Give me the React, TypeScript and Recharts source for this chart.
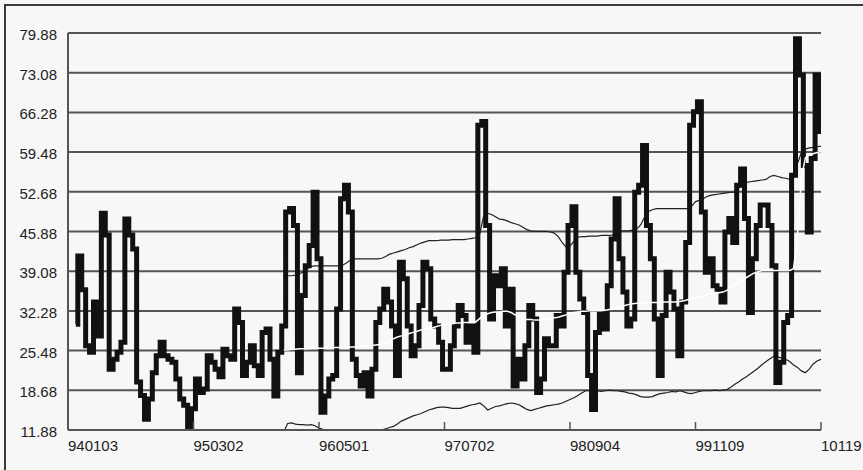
import React from 'react';
import { LineChart, Line, XAxis, YAxis, CartesianGrid } from 'recharts';

const xTickLabels = ['940103', '950302', '960501', '970702', '980904', '991109', '10119'];
const xTickIndex = [0, 32, 64, 96, 128, 160, 192];
const yTicks = [11.88, 18.68, 25.48, 32.28, 39.08, 45.88, 52.68, 59.48, 66.28, 73.08, 79.88];
const SAMPLE_COUNT = 193;

const volStart = 2;
const volatility = [
  30.0, 41.7, 35.9, 26.3, 25.2, 33.8, 28.0, 49.0, 45.3, 22.3,
  24.0, 25.2, 26.9, 48.0, 45.3, 42.9, 20.1, 17.8, 13.7, 17.2,
  21.7, 24.6, 26.9, 24.6, 24.0, 23.5, 20.6, 17.2, 16.1, 12.0,
  15.5, 20.6, 18.3, 18.9, 24.6, 23.5, 22.3, 21.0, 25.7, 24.6,
  24.0, 32.6, 30.3, 21.2, 23.5, 26.3, 22.9, 21.2, 28.6, 29.2,
  24.0, 17.7, 25.2, 29.7, 49.2, 49.8, 46.9, 21.7, 34.9, 40.0,
  43.5, 52.6, 41.2, 14.9, 17.7, 20.6, 21.2, 32.6, 51.5, 53.8,
  49.2, 24.0, 21.2, 19.4, 21.7, 17.7, 22.3, 30.3, 32.6, 36.0,
  33.8, 29.7, 21.2, 40.6, 37.8, 29.7, 24.6, 26.3, 33.2, 40.6,
  39.5, 30.9, 29.7, 26.9, 22.3, 22.3, 26.3, 29.7, 33.2, 31.5,
  26.9, 29.7, 25.2, 64.1, 64.7, 46.9, 30.9, 38.3, 36.6, 39.5,
  29.7, 36.0, 19.4, 24.0, 20.6, 26.3, 33.2, 30.9, 18.3, 20.6,
  27.5, 26.3, 26.3, 31.5, 29.7, 38.9, 46.9, 50.1, 38.9, 34.3,
  32.0, 21.2, 15.4, 28.6, 32.0, 29.2, 36.6, 44.6, 51.5, 41.2,
  35.5, 29.7, 30.9, 52.6, 53.8, 60.6, 46.9, 41.2, 30.9, 21.2,
  31.5, 38.9, 35.5, 32.6, 24.6, 33.8, 44.0, 64.1, 66.4, 68.1,
  49.2, 38.9, 41.2, 36.6, 36.0, 33.8, 45.8, 48.1, 44.0, 53.8,
  56.6, 48.1, 32.0, 41.2, 46.9, 50.4, 50.4, 46.9, 40.0, 20.0,
  23.5, 30.3, 31.5, 55.5, 78.9, 72.7, 57.2, 45.8, 58.4, 72.7, 63.0,
];

const bandStart = 55;
const upperBand = [
  38.3, 38.3, 38.3, 38.4,
  38.6, 39.0, 39.5, 39.9,
  40.0, 40.0, 40.0, 40.0, 40.0, 40.0, 40.0, 40.1,
  40.5, 41.0,
  41.2, 41.2, 41.2, 41.2, 41.2, 41.2, 41.2, 41.3,
  41.6, 42.0, 42.2, 42.4, 42.6, 42.8, 43.1, 43.3, 43.6, 43.9, 44.1,
  44.3, 44.3, 44.3, 44.4, 44.4, 44.4, 44.5, 44.5, 44.5, 44.5, 44.6, 44.7, 44.8,
  45.5, 48.6, 49.0, 48.8, 48.4, 48.0, 47.9, 47.7, 47.4, 47.2, 47.0, 46.6, 46.2, 46.0,
  45.9, 45.9, 45.9, 45.9, 45.8, 45.6, 45.0, 44.0, 43.2, 43.4,
  44.2, 44.9, 45.0, 45.0, 45.1, 45.1, 45.1, 45.2, 45.2, 45.2, 45.3,
  45.8, 46.0, 46.0, 46.0, 46.1, 46.3, 47.0, 48.3, 49.3, 49.6,
  49.8, 49.8, 49.8, 49.8, 49.8, 49.8, 49.8, 49.8, 49.8,
  50.2, 51.0, 51.2, 51.5, 51.9, 52.1, 52.2, 52.3, 52.4, 52.5, 52.6, 52.6,
  53.3, 54.0, 54.3, 54.4, 54.5, 54.6, 54.7, 54.8, 55.3, 55.5,
  55.3, 55.1, 55.0, 54.8, 55.5, 57.5, 59.4, 60.0, 60.2, 60.3, 60.4, 60.5,
];

const meanLine = [
  25.6, 25.6, 25.7, 25.7, 25.8, 25.8, 25.8, 25.9, 25.9, 25.9, 25.9, 25.9, 25.9, 26.0, 26.0,
  26.0, 26.0, 26.1, 26.1, 26.2, 26.2, 26.3, 26.3, 26.4, 26.5,
  26.6, 26.9, 27.2, 27.5, 27.8, 28.0, 28.2, 28.4, 28.6, 28.8, 29.0, 29.2, 29.3, 29.4, 29.6, 29.8, 30.0,
  30.1, 30.1, 30.2, 30.2, 30.3, 30.3, 30.4, 30.4,
  31.0, 31.5, 31.8, 32.0, 32.1, 32.1, 32.2, 32.2,
  32.0, 31.6, 31.2, 30.9, 30.8, 30.8, 30.7, 30.7, 30.8, 30.9,
  31.0, 31.1, 31.2, 31.4, 31.6, 31.8, 32.0, 32.1,
  32.2, 32.2, 32.3, 32.3, 32.3, 32.3, 32.4, 32.5, 32.6, 32.8,
  33.0, 33.2, 33.4, 33.5, 33.6, 33.6,
  33.7, 33.7, 33.7, 33.7, 33.7, 33.8, 33.8, 33.8, 33.8, 33.9, 34.0, 34.2, 34.4, 34.5,
  34.7, 34.9, 35.1, 35.2, 35.3, 35.4, 35.5,
  35.8, 36.3, 36.8, 37.2, 37.6, 38.0, 38.4, 38.8,
  39.0, 39.2, 39.2, 39.2, 39.2, 39.2, 39.2, 39.2, 39.2,
  39.5, 45.0, 55.0, 58.5, 59.0, 59.2, 59.4, 59.6,
];

const lowerBand = [
  11.5, 13.0, 13.1,
  12.9, 12.8, 12.8, 12.7, 12.8,
  12.6, 12.2, 12.0, 11.9,
  11.8, 11.7, 11.6, 11.5,
  11.3, 11.2, 11.2, 11.3,
  11.6, 11.7, 11.7, 11.7, 11.8,
  11.9, 12.1, 12.3, 12.5, 12.9, 13.4, 13.7, 14.0, 14.3, 14.5, 14.7, 15.0, 15.3, 15.5, 15.7, 15.8, 15.8,
  15.7, 15.6, 15.6, 15.6, 15.8, 16.0, 16.2, 16.3, 16.5,
  16.0, 15.3, 15.6, 15.9, 16.0, 16.2, 16.4, 16.5, 16.4, 16.2, 15.8, 15.4, 15.2,
  15.4, 15.6, 15.8, 16.0, 16.1, 16.2, 16.3, 16.5, 16.8, 17.1, 17.4, 17.8, 18.2, 18.6,
  18.6, 18.6, 18.6, 18.5, 18.6, 18.7, 18.6, 18.6, 18.5,
  18.4, 18.2, 18.1, 17.9, 17.6, 17.5, 17.5, 17.6,
  17.9, 18.1, 18.2, 18.3, 18.5, 18.4, 18.6, 18.4, 18.2, 18.1, 18.3, 18.5,
  18.6, 18.6, 18.6, 18.7, 18.6, 18.7, 18.8,
  19.2, 19.7, 20.1, 20.6, 21.0, 21.5, 22.0, 22.5, 23.1, 23.6, 24.1, 24.5,
  24.4, 24.2, 24.0, 23.6, 23.0, 22.6, 22.0, 21.7, 22.3, 23.2, 23.7, 24.0,
];

const pick = (arr: number[], start: number, i: number) =>
  i >= start && i - start < arr.length ? arr[i - start] : null;

const data = Array.from({ length: SAMPLE_COUNT }, (_, i) => ({
  i,
  vol: pick(volatility, volStart, i),
  upper: pick(upperBand, bandStart, i),
  mean: pick(meanLine, bandStart, i),
  lower: pick(lowerBand, bandStart, i),
}));

const FONT = '"Liberation Sans", Arial, sans-serif';

const XTick = (props: any) => {
  const { x, y, payload } = props;
  const idx = xTickIndex.indexOf(payload.value);
  return (
    <g>
      {idx > 0 && <line x1={x} x2={x} y1={y - 8} y2={y} stroke="#555" strokeWidth={1.5} />}
      <text x={x} y={y + 21} textAnchor="start" fontSize={15} fontFamily={FONT} fill="#222">
        {xTickLabels[idx]}
      </text>
    </g>
  );
};

const YTick = (props: any) => {
  const { x, y, payload } = props;
  return (
    <text x={x} y={y + 7} textAnchor="end" fontSize={15} fontFamily={FONT} fill="#222">
      {Number(payload.value).toFixed(2)}
    </text>
  );
};

export default function App() {
  return (
    <div style={{ position: 'absolute', left: 0, top: 0, width: 863, height: 470, background: '#f7f7f7', overflow: 'hidden' }}>
      <div style={{ position: 'absolute', left: 4, top: 4, width: 900, height: 500, border: '2px solid #3a3a3a', boxSizing: 'border-box' }} />
      <div style={{ position: 'absolute', left: 0, top: 0 }}>
        <LineChart width={863} height={470} data={data} margin={{ top: 33, right: 42, bottom: 10, left: 8 }}>
          <CartesianGrid vertical={false} stroke="#555" strokeWidth={2} />
          <XAxis
            dataKey="i"
            type="number"
            domain={[0, 192]}
            ticks={xTickIndex}
            allowDataOverflow
            height={30}
            tickSize={0}
            tickMargin={0}
            tickLine={false}
            axisLine={{ stroke: '#555', strokeWidth: 2 }}
            tick={<XTick />}
            interval={0}
          />
          <YAxis
            type="number"
            domain={[11.88, 79.88]}
            ticks={yTicks}
            allowDataOverflow
            width={60}
            tickSize={0}
            tickMargin={11}
            tickLine={false}
            axisLine={{ stroke: '#555', strokeWidth: 2 }}
            tick={<YTick />}
            interval={0}
          />
          <Line dataKey="lower" stroke="#222" strokeWidth={1.2} dot={false} isAnimationActive={false} type="linear" />
          <Line dataKey="upper" stroke="#222" strokeWidth={1.2} dot={false} isAnimationActive={false} type="linear" />
          <Line dataKey="vol" stroke="#111" strokeWidth={5} dot={false} isAnimationActive={false} type="step" strokeLinejoin="miter" strokeLinecap="butt" />
          <Line dataKey="mean" stroke="#ffffff" strokeWidth={1.5} dot={false} isAnimationActive={false} type="linear" />
        </LineChart>
      </div>
    </div>
  );
}
